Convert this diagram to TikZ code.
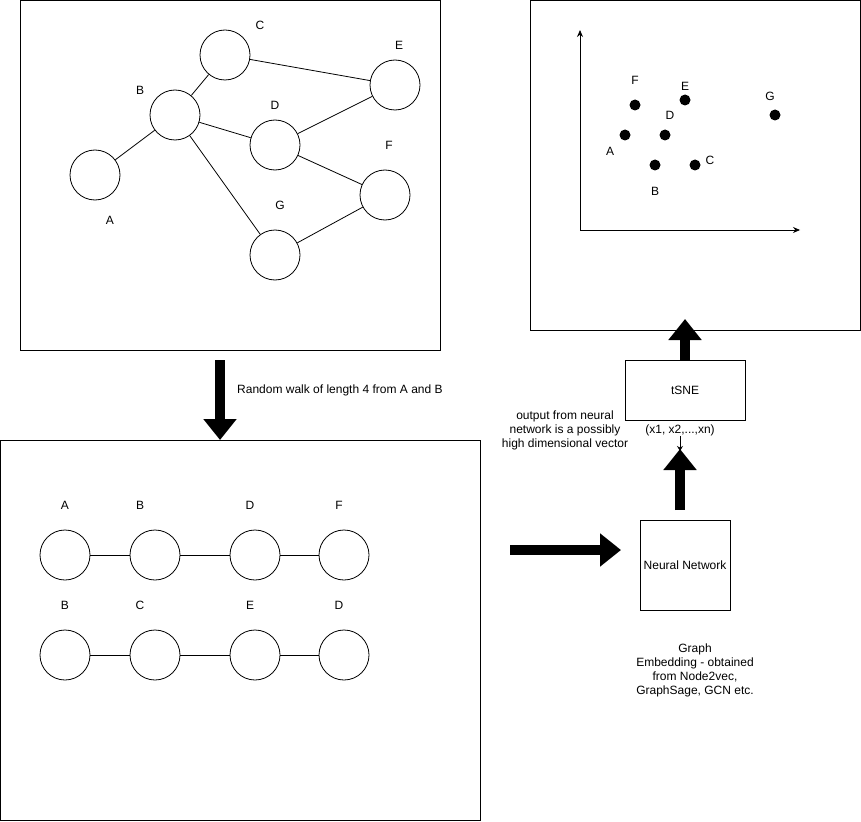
\documentclass[tikz,border=0pt]{standalone}
\usepackage{fontspec}
\setmainfont{Liberation Sans}
\usetikzlibrary{arrows.meta}
\begin{document}
\begin{tikzpicture}[x=1pt,y=-1pt,
  every node/.style={font=\fontsize{12}{14}\selectfont},
  panel/.style={draw,line width=0.9pt},
  vtx/.style={draw,circle,minimum size=50pt,inner sep=0pt,line width=0.8pt},
  dot/.style={fill=black,circle,minimum size=11pt,inner sep=0pt},
  lbl/.style={inner sep=0pt},
  edge/.style={line width=0.8pt},
  bigarrow/.style={line width=10pt,-{Triangle[width=32pt,length=21pt]}},
  boxnode/.style={draw,line width=0.9pt,inner sep=0pt,align=center},
  note/.style={align=center,inner sep=0pt,font=\fontsize{12}{14}\selectfont}]
\useasboundingbox (0,0) rectangle (861,821);

% input graph
\node[panel,minimum width=420pt,minimum height=350pt,inner sep=0pt] (graphbox) at (230,175) {};
\node[vtx] (A) at (95,175) {};
\node[vtx] (B) at (175,115) {};
\node[vtx] (C) at (225,55) {};
\node[vtx] (D) at (275,145) {};
\node[vtx] (E) at (395,85) {};
\node[vtx] (F) at (385,195) {};
\node[vtx] (G) at (275,255) {};
\node[lbl] (lA) at (110,220) {A};
\node[lbl] (lB) at (140,90) {B};
\node[lbl] (lC) at (260,25) {C};
\node[lbl] (lD) at (275,105) {D};
\node[lbl] (lE) at (399,45) {E};
\node[lbl] (lF) at (389,145) {F};
\node[lbl] (lG) at (280,205) {G};
\draw[edge] (A) -- (B);
\draw[edge] (B) -- (C);
\draw[edge] (B) -- (D);
\draw[edge] (B) -- (G);
\draw[edge] (C) -- (E);
\draw[edge] (D) -- (E);
\draw[edge] (D) -- (F);
\draw[edge] (G) -- (F);

% random walks
\node[panel,minimum width=480pt,minimum height=380pt,inner sep=0pt] (walkbox) at (240,630) {};
\foreach \n/\x/\t in {1/65/A,2/155/B,3/255/D,4/344/F} {
  \node[vtx] (r\n) at (\x,555) {};
}
\foreach \n/\x/\t in {1/65/B,2/155/C,3/255/E,4/344/D} {
  \node[vtx] (s\n) at (\x,655) {};
}
\node[lbl] (ra) at (65,505) {A};
\node[lbl] (rb) at (140,505) {B};
\node[lbl] (rd) at (250,505) {D};
\node[lbl] (rf) at (339,505) {F};
\node[lbl] (sb) at (65,605) {B};
\node[lbl] (sc) at (140,605) {C};
\node[lbl] (se) at (250,605) {E};
\node[lbl] (sd) at (339,605) {D};
\draw[edge] (r1) -- (r2);
\draw[edge] (r2) -- (r3);
\draw[edge] (r3) -- (r4);
\draw[edge] (s1) -- (s2);
\draw[edge] (s2) -- (s3);
\draw[edge] (s3) -- (s4);

% arrow between graph and walks
\coordinate (downstart) at (220,360);
\coordinate (downend) at (220,440);
\draw[bigarrow] (downstart) -- (downend);
\node[lbl,anchor=west] (walklabel) at (237,390) {Random walk of length 4 from A and B};

% walks into the network
\coordinate (rightstart) at (510,550);
\coordinate (rightend) at (621,550);
\draw[bigarrow] (rightstart) -- (rightend);

% neural network and tSNE
\node[boxnode,minimum width=90pt,minimum height=90pt] (nn) at (685,565) {Neural Network};
\node[boxnode,minimum width=120pt,minimum height=60pt] (tsne) at (685,390) {tSNE};
\node[lbl] (vec) at (680,430) {(x1, x2,...,xn)};
\coordinate (nnup) at (680,510);
\coordinate (nntip) at (680,449);
\draw[bigarrow] (nnup) -- (nntip);
\draw[line width=0.8pt,-{Stealth[length=5pt,width=6pt]}] (vec.south) -- (680,451);
\node[note] (outnote) at (565,430) {output from neural\\network is a possibly\\high dimensional vector};
\node[note] (embnote) at (695,670) {Graph\\Embedding - obtained\\from Node2vec,\\GraphSage, GCN etc.};

% tSNE into the scatter plot
\coordinate (tsneup) at (685,360);
\coordinate (plottip) at (685,319);
\draw[bigarrow] (tsneup) -- (plottip);

% embedding scatter plot
\node[panel,minimum width=330pt,minimum height=330pt,inner sep=0pt] (plotbox) at (695,165) {};
\coordinate (origin) at (580,230);
\coordinate (yend) at (580,30);
\coordinate (xend) at (800,230);
\draw[line width=0.8pt,-{Stealth[length=7pt,width=6pt]}] (origin) -- (yend);
\draw[line width=0.8pt,-{Stealth[length=7pt,width=6pt]}] (origin) -- (xend);
\node[dot] (pF) at (635,105) {};
\node[dot] (pE) at (685,100) {};
\node[dot] (pD) at (665,135) {};
\node[dot] (pA) at (625,135) {};
\node[dot] (pB) at (655,165) {};
\node[dot] (pC) at (695,165) {};
\node[dot] (pG) at (775,115) {};
\node[lbl] (qF) at (635,80) {F};
\node[lbl] (qE) at (685,86) {E};
\node[lbl] (qD) at (670,115) {D};
\node[lbl] (qA) at (610,151) {A};
\node[lbl] (qB) at (655,191) {B};
\node[lbl] (qC) at (710,160) {C};
\node[lbl] (qG) at (770,96) {G};
\end{tikzpicture}
\end{document}
